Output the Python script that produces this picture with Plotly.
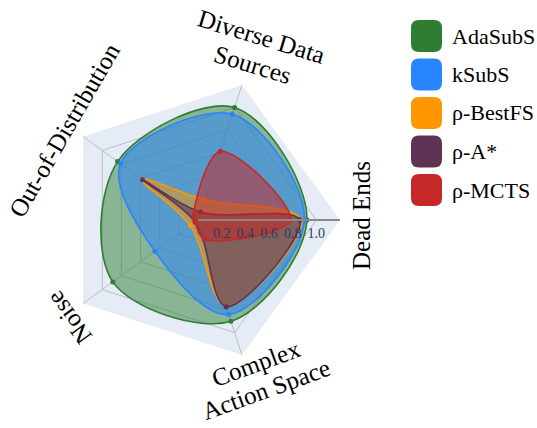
import plotly.graph_objects as go

W, H = 537, 428

categories = ["Dead Ends", "Diverse Data Sources", "Out-of-Distribution", "Noise", "Complex Action Space"]
methods = ["AdaSubS", "kSubS", "ρ-BestFS", "ρ-A*", "ρ-MCTS"]
adasubs = [0.92, 1.00, 0.84, 0.89, 0.90]
ksubs = [0.90, 0.94, 0.81, 0.45, 0.84]
bestfs = [0.87, 0.18, 0.58, 0.08, 0.76]
astar = [0.86, 0.07, 0.58, 0.03, 0.77]
mcts = [0.78, 0.61, 0.05, 0.03, 0.17]
radial_ticks = [0.2, 0.4, 0.6, 0.8, 1.0]
radial_ticktext = ["0.2", "0.4", "0.6", "0.8", "1.0"]

series = [adasubs, ksubs, bestfs, astar, mcts]
colors = ["#2E7D32", "#2985FF", "#FF9800", "#5E3354", "#C62828"]
fill_alpha = [0.5, 0.52, 0.5, 0.55, 0.55]

def rgba(hexc, a):
    h = hexc.lstrip("#")
    r, g, b = int(h[0:2], 16), int(h[2:4], 16), int(h[4:6], 16)
    return f"rgba({r},{g},{b},{a})"

fig = go.Figure()
for name, vals, col, a in zip(methods, series, colors, fill_alpha):
    fig.add_trace(go.Scatterpolar(
        r=vals + vals[:1],
        theta=categories + categories[:1],
        name=name,
        mode="lines+markers",
        line=dict(color=col, width=1.6, shape="spline", smoothing=1.0),
        marker=dict(color=col, size=5),
        fill="toself",
        fillcolor=rgba(col, a),
        showlegend=False,
    ))

serif = "Liberation Serif"
fig.update_layout(
    width=W, height=H,
    margin=dict(l=0, r=0, t=0, b=0),
    paper_bgcolor="white",
    polar=dict(
        domain=dict(x=[56 / W, 340 / W], y=[1 - 362 / H, 1 - 78 / H]),
        bgcolor="#E5ECF6",
        gridshape="linear",
        angularaxis=dict(
            rotation=0, direction="counterclockwise",
            showticklabels=False, ticks="",
            showline=False,
            gridcolor="rgba(185,185,190,0.9)", gridwidth=1,
        ),
        radialaxis=dict(
            range=[0, 1.2], angle=0,
            tickvals=radial_ticks, ticktext=radial_ticktext,
            ticks="", showline=True, linecolor="#8A8A8A", linewidth=2,
            gridcolor="rgba(185,185,190,0.9)", gridwidth=1,
            tickfont=dict(family=serif, size=14, color="#2A3F5F"),
        ),
    ),
)

def px(x):
    return x / W

def py(y):
    return 1 - y / H

# axis labels (one annotation per text line)
labels = [
    ("Diverse Data", 261, 36, 17),
    ("Sources", 252, 65, 17),
    ("Out-of-Distribution", 64, 130, -60),
    ("Dead Ends", 362, 216, -90),
    ("Noise", 69, 318, -126),
    ("Complex", 256, 363, -20),
    ("Action Space", 266, 389, -20),
]
for txt, x, y, ang in labels:
    fig.add_annotation(
        text=txt, x=px(x), y=py(y), xref="paper", yref="paper",
        xanchor="center", yanchor="middle", showarrow=False,
        textangle=ang, align="center",
        font=dict(family=serif, size=25, color="black"),
    )

# custom legend
def rounded_rect(x0, y0, x1, y1, r):
    X0, X1 = px(x0), px(x1)
    Y0, Y1 = py(y0), py(y1)
    rx, ry = r / W, r / H
    return (f"M {X0+rx},{Y0} L {X1-rx},{Y0} Q {X1},{Y0} {X1},{Y0-ry} "
            f"L {X1},{Y1+ry} Q {X1},{Y1} {X1-rx},{Y1} L {X0+rx},{Y1} "
            f"Q {X0},{Y1} {X0},{Y1+ry} L {X0},{Y0-ry} Q {X0},{Y0} {X0+rx},{Y0} Z")

for i, (name, col) in enumerate(zip(methods, colors)):
    top = 20 + i * 38.5
    fig.add_shape(type="path", xref="paper", yref="paper",
                  path=rounded_rect(411, top, 442, top + 32, 8),
                  fillcolor=col, line=dict(width=0))
    fig.add_annotation(text=name, x=px(450), y=py(top + 16),
                       xref="paper", yref="paper", xanchor="left", yanchor="middle",
                       showarrow=False, font=dict(family=serif, size=22, color="black"))

fig.write_html("out.html")
